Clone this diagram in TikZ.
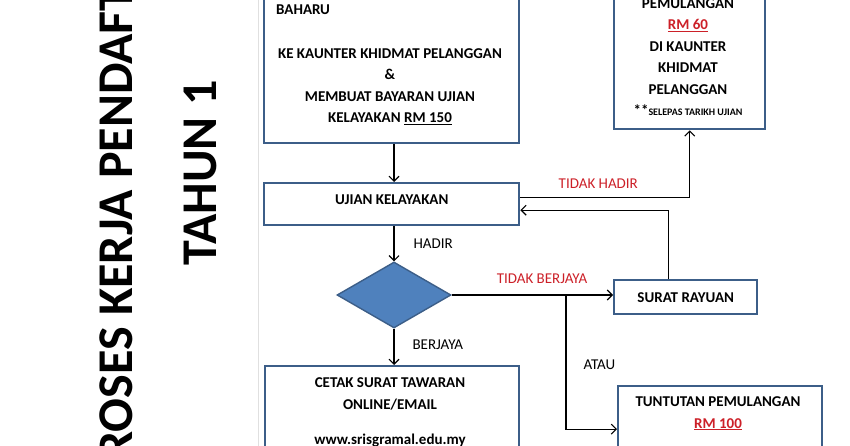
\documentclass[tikz,border=0pt]{standalone}
\usepackage{fontspec}
\setmainfont{Carlito}
\usetikzlibrary{arrows.meta,shapes.geometric}

\definecolor{bingkai}{RGB}{60,94,136}
\definecolor{biru}{RGB}{79,129,189}
\definecolor{merah}{RGB}{204,32,40}

\begin{document}
\begin{tikzpicture}[x=1pt, y=-1pt, >={Straight Barb[length=5pt,width=10pt]},
  petak/.style={draw=bingkai, line width=2.4pt, inner sep=0pt, anchor=north west},
  tulis/.style={font=\fontsize{15}{21.5}\selectfont\bfseries, align=center, anchor=base, inner sep=0pt},
  label/.style={font=\fontsize{15}{18}\selectfont, inner sep=0pt},
  arr/.style={->, line width=1.1pt}]

% Frame
\useasboundingbox (0,0) rectangle (850,446);
\clip (0,0) rectangle (850,446);
\draw[black!12, line width=1pt] (258,0) -- (258,446);

% Title
\node[anchor=base west, rotate=90, inner sep=0pt, font=\fontsize{50}{60}\selectfont\bfseries]
  (judul) at (132,460) {ROSES KERJA PENDAFT};
\node[rotate=90, inner sep=0pt, font=\fontsize{50}{60}\selectfont\bfseries]
  (tahun) at (200,173) {TAHUN 1};

% Boxes
\node[petak, minimum width=255pt, minimum height=182pt] (daftar) at (263,-40) {};
\node[petak, minimum width=255pt, minimum height=42pt, text height=10pt, text depth=10pt,
  font=\fontsize{15}{18}\selectfont\bfseries] (ujian) at (263,182) {UJIAN KELAYAKAN};
\node[diamond, draw=bingkai, fill=biru, line width=1.4pt, inner sep=0pt,
  minimum width=114pt, minimum height=66pt] (keputusan) at (394,295) {};
\node[petak, minimum width=151pt, minimum height=188pt] (pulang) at (613,-60) {};
\node[petak, minimum width=143pt, minimum height=34pt, font=\fontsize{15}{18}\selectfont\bfseries]
  (rayuan) at (613,279) {SURAT RAYUAN};
\node[petak, minimum width=254pt, minimum height=120pt] (cetak) at (264,365) {};
\node[petak, minimum width=204pt, minimum height=86pt] (tuntutan) at (617,385) {};

% Box texts (base = last line)
\node[tulis, anchor=base west] (baharu) at (276,15) {BAHARU};
\node[tulis] (daftarisi) at (390,123)
  {KE KAUNTER KHIDMAT PELANGGAN\\ \&\\ MEMBUAT BAYARAN UJIAN\\ KELAYAKAN \underline{RM 150}};
\node[tulis] (pulangisi) at (688,116)
  {PEMULANGAN\\ \textcolor{merah}{\underline{RM 60}}\\ DI KAUNTER\\ KHIDMAT\\ PELANGGAN\\
   **{\fontsize{10}{12}\selectfont SELEPAS TARIKH UJIAN}};
\node[tulis] (cetakisi) at (390,444)
  {CETAK SURAT TAWARAN\\ ONLINE/EMAIL\\[13.5pt] www.srisgramal.edu.my};
\node[tulis] (tuntutanisi) at (718,428)
  {TUNTUTAN PEMULANGAN\\ \textcolor{merah}{\underline{RM 100}}};

% Arrows
\draw[arr] (daftar.south -| keputusan.north) -- (ujian.north -| keputusan.north);
\draw[arr] (ujian.south -| keputusan.north) -- (keputusan.north)
  node[label, midway, right=19pt] {HADIR};
\draw[arr] (keputusan.south) -- (cetak.north -| keputusan.south)
  node[label, pos=0.45, right=18pt] {BERJAYA};
\draw[arr] (keputusan.east) -- (rayuan.west |- keputusan.east)
  node[label, pos=0.56, above=11pt, text=merah] {TIDAK BERJAYA};
\draw[arr] ([yshift=7pt]ujian.east) -| (pulang.south)
  node[label, pos=0.23, above=8pt, text=merah] {TIDAK HADIR};
\draw[arr] ([xshift=-17pt]rayuan.north) |- ([yshift=-6pt]ujian.east);

% Branch to refund
\coordinate (cabang) at (566,295);
\draw[arr] (cabang) |- (tuntutan.west)
  node[label, pos=0.26, right=17pt] {ATAU};

\end{tikzpicture}
\end{document}
